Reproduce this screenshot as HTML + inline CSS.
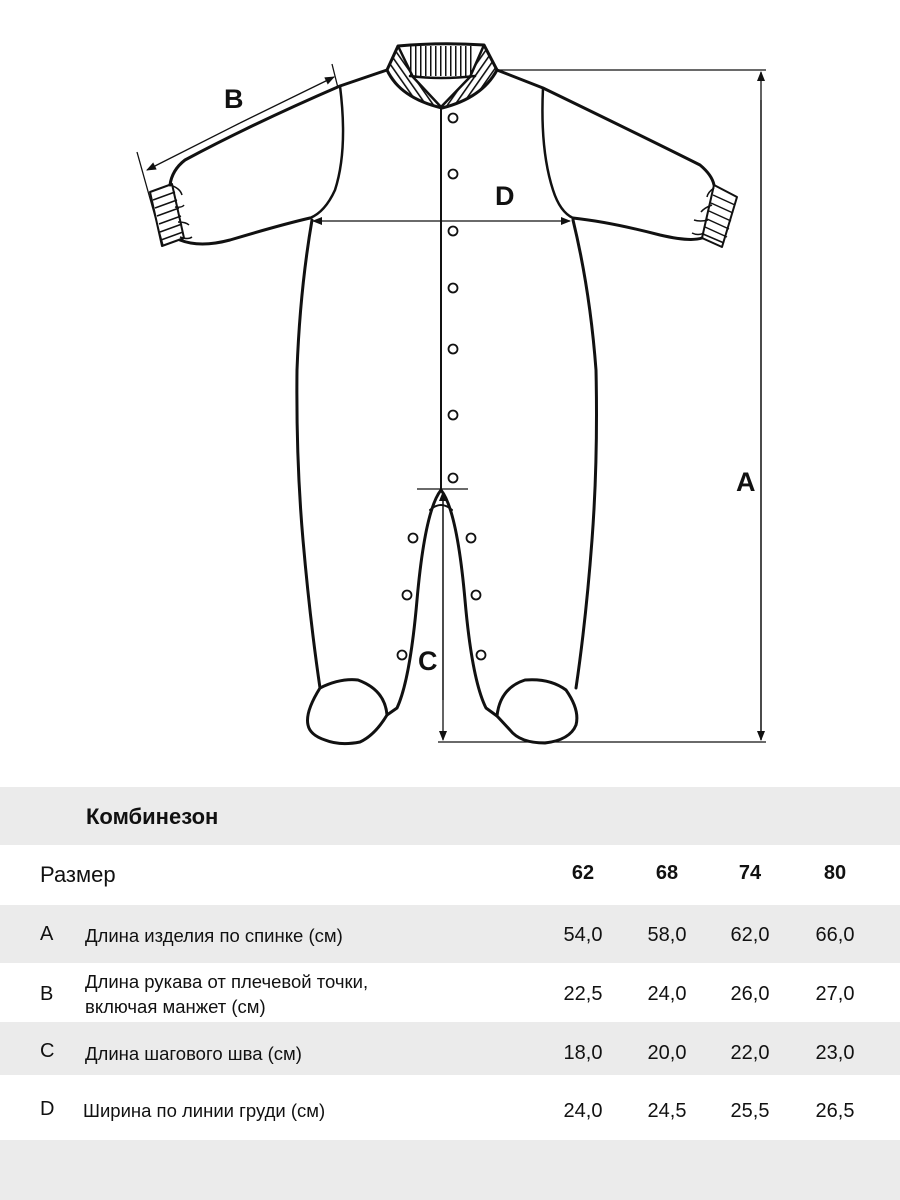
<!DOCTYPE html>
<html><head><meta charset="utf-8"><style>
body{margin:0;width:900px;height:1200px;background:#fff;position:relative;font-family:"Liberation Sans","DejaVu Sans",sans-serif;overflow:hidden}
.b{position:absolute;left:0;width:900px;background:#ebebeb}
.t{position:absolute;color:#111;white-space:nowrap}
.n{position:absolute;width:60px;text-align:center;font-size:20px;color:#111}
</style></head><body>
<svg width="900" height="780" style="position:absolute;left:0;top:0" viewBox="0 0 900 780">
<defs>
<marker id="ar" markerWidth="10" markerHeight="8" refX="9" refY="4" orient="auto" markerUnits="userSpaceOnUse"><path d="M0,0 L10,4 L0,8 z" fill="#111"/></marker>
<pattern id="vs" width="5" height="10" patternUnits="userSpaceOnUse"><rect x="0" y="0" width="1.5" height="10" fill="#111"/></pattern>
<pattern id="ds1" width="6" height="6" patternUnits="userSpaceOnUse" patternTransform="rotate(-35)"><rect x="0" y="0" width="1.6" height="6" fill="#111"/></pattern>
<pattern id="ds2" width="6" height="6" patternUnits="userSpaceOnUse" patternTransform="rotate(35)"><rect x="0" y="0" width="1.6" height="6" fill="#111"/></pattern>
</defs>
<g fill="none" stroke="#111" stroke-width="3" stroke-linejoin="round" stroke-linecap="round">
<!-- collar -->
<path d="M410,46 L475,46 L475,76 L410,76 z" fill="url(#vs)" stroke="none"/>
<path d="M398,46 L387,70 Q400,98 441,108 L413,77 z" fill="url(#ds1)" stroke="none"/>
<path d="M484,45 L497,70 Q482,98 441,108 L470,77 z" fill="url(#ds2)" stroke="none"/>
<path d="M398,46 Q441,42 484,45 L497,70 Q482,98 442,108 Q400,98 387,70 z"/>
<path d="M410,76 Q441,80 475,76" stroke-width="2.5"/>
<path d="M398,46 L413,77 L441,107 L470,77 L484,45" stroke-width="2.5"/>
<!-- left sleeve -->
<path d="M387,70 L340,86 Q250,125 185,160 Q172,170 170,185"/>
<path d="M180,240 Q200,248 230,240 Q280,225 310,218"/>
<path d="M340,86 Q348,150 335,190 Q325,212 310,218" stroke-width="2.5"/>
<path d="M150,192 L172,184 L184,238 L162,246 z" stroke-width="2"/>
<!-- right sleeve -->
<path d="M497,70 L543,88 Q640,135 700,165 Q712,175 714,185"/>
<path d="M702,238 Q690,242 660,235 Q610,222 573,218"/>
<path d="M543,88 Q540,150 553,190 Q560,212 573,218" stroke-width="2.5"/>
<path d="M714,185 L737,197 L722,247 L702,238 z" stroke-width="2"/>
<!-- body sides -->
<path d="M312,220 Q300,290 297,370 Q296,460 303,540 Q310,620 320,688"/>
<path d="M573,220 Q590,290 596,370 Q598,460 592,540 Q586,620 576,688"/>
<!-- inner legs -->
<path d="M387,715 L397,708 Q410,680 417,600 Q425,510 441,490 Q457,510 465,600 Q472,680 486,708 L497,716"/>
<path d="M430,510 Q441,500 452,510" stroke-width="2"/>
<!-- feet -->
<path d="M320,688 Q340,678 358,680 Q385,690 387,715 Q375,735 360,742 Q340,746 325,740 Q310,735 308,725 Q305,712 320,688 z"/>
<path d="M497,716 Q500,688 525,680 Q550,678 566,690 Q580,710 576,725 Q570,740 545,743 Q520,743 510,730 Z"/>
</g>
<g stroke="#111" stroke-width="1.5">
<line x1="153" y1="200" x2="175" y2="192"/><line x1="155" y1="208" x2="177" y2="200"/><line x1="157" y1="216" x2="179" y2="208"/><line x1="159" y1="224" x2="181" y2="216"/><line x1="160" y1="232" x2="182" y2="224"/><line x1="161" y1="240" x2="183" y2="232"/>
<line x1="713" y1="195" x2="735" y2="205"/><line x1="711" y1="203" x2="733" y2="213"/><line x1="709" y1="211" x2="731" y2="221"/><line x1="707" y1="219" x2="729" y2="229"/><line x1="705" y1="227" x2="727" y2="237"/><line x1="703" y1="234" x2="724" y2="243"/>
<path d="M170,185 Q180,188 182,195 M175,207 Q182,208 184,205 M178,222 Q186,222 189,225 M180,237 Q188,240 192,237" fill="none"/>
<path d="M714,188 Q708,192 707,197 M712,205 Q704,208 701,212 M708,220 Q700,222 694,220 M704,233 Q698,236 692,233" fill="none"/>
</g>
<line x1="441" y1="108" x2="441" y2="490" stroke="#111" stroke-width="2"/>
<g fill="#fff" stroke="#111" stroke-width="1.8">
<circle cx="453" cy="118" r="4.5"/><circle cx="453" cy="174" r="4.5"/><circle cx="453" cy="231" r="4.5"/><circle cx="453" cy="288" r="4.5"/><circle cx="453" cy="349" r="4.5"/><circle cx="453" cy="415" r="4.5"/><circle cx="453" cy="478" r="4.5"/>
<circle cx="413" cy="538" r="4.5"/><circle cx="407" cy="595" r="4.5"/><circle cx="402" cy="655" r="4.5"/>
<circle cx="471" cy="538" r="4.5"/><circle cx="476" cy="595" r="4.5"/><circle cx="481" cy="655" r="4.5"/>
</g>
<g stroke="#111" stroke-width="1.3" fill="none">
<line x1="497" y1="70" x2="766" y2="70"/>
<line x1="761" y1="740" x2="761" y2="72" marker-end="url(#ar)"/>
<line x1="761" y1="100" x2="761" y2="740" marker-end="url(#ar)"/>
<line x1="438" y1="742" x2="766" y2="742"/>
<line x1="417" y1="489" x2="468" y2="489"/>
<line x1="443" y1="500" x2="443" y2="740" marker-end="url(#ar)"/>
<line x1="443" y1="700" x2="443" y2="492" marker-end="url(#ar)"/>
<line x1="400" y1="221" x2="313" y2="221" marker-end="url(#ar)"/>
<line x1="400" y1="221" x2="570" y2="221" marker-end="url(#ar)"/>
<line x1="240" y1="123" x2="147" y2="170" marker-end="url(#ar)"/>
<line x1="240" y1="123" x2="334" y2="77" marker-end="url(#ar)"/>
<line x1="137" y1="152" x2="163" y2="245"/>
<line x1="332" y1="64" x2="338" y2="88"/>
</g>
<g font-family="Liberation Sans, sans-serif" font-size="27" font-weight="bold" fill="#111">
<text x="224" y="108">B</text>
<text x="495" y="205">D</text>
<text x="736" y="491">A</text>
<text x="418" y="670">C</text>
</g>
</svg>
<div class="b" style="top:787px;height:58px"></div>
<div class="b" style="top:905px;height:58px"></div>
<div class="b" style="top:1022px;height:53px"></div>
<div class="b" style="top:1140px;height:60px"></div>
<div class="t" style="left:86px;top:804px;font-size:22px;font-weight:bold">Комбинезон</div>
<div class="t" style="left:40px;top:862px;font-size:22px">Размер</div>
<div class="n" style="left:553px;top:862px;font-weight:bold">62</div>
<div class="n" style="left:637px;top:862px;font-weight:bold">68</div>
<div class="n" style="left:720px;top:862px;font-weight:bold">74</div>
<div class="n" style="left:805px;top:862px;font-weight:bold">80</div>
<div class="t" style="left:40px;top:923px;font-size:20px">A</div>
<div class="t" style="left:85px;top:925px;font-size:18.5px">Длина изделия по спинке (см)</div>
<div class="n" style="left:553px;top:924px">54,0</div><div class="n" style="left:637px;top:924px">58,0</div><div class="n" style="left:720px;top:924px">62,0</div><div class="n" style="left:805px;top:924px">66,0</div>
<div class="t" style="left:40px;top:983px;font-size:20px">B</div>
<div class="t" style="left:85px;top:969px;font-size:18.5px;line-height:25px">Длина рукава от плечевой точки,<br>включая манжет (см)</div>
<div class="n" style="left:553px;top:983px">22,5</div><div class="n" style="left:637px;top:983px">24,0</div><div class="n" style="left:720px;top:983px">26,0</div><div class="n" style="left:805px;top:983px">27,0</div>
<div class="t" style="left:40px;top:1040px;font-size:20px">C</div>
<div class="t" style="left:85px;top:1043px;font-size:18.5px">Длина шагового шва (см)</div>
<div class="n" style="left:553px;top:1042px">18,0</div><div class="n" style="left:637px;top:1042px">20,0</div><div class="n" style="left:720px;top:1042px">22,0</div><div class="n" style="left:805px;top:1042px">23,0</div>
<div class="t" style="left:40px;top:1098px;font-size:20px">D</div>
<div class="t" style="left:83px;top:1100px;font-size:18.5px">Ширина по линии груди (см)</div>
<div class="n" style="left:553px;top:1100px">24,0</div><div class="n" style="left:637px;top:1100px">24,5</div><div class="n" style="left:720px;top:1100px">25,5</div><div class="n" style="left:805px;top:1100px">26,5</div>
</body></html>
